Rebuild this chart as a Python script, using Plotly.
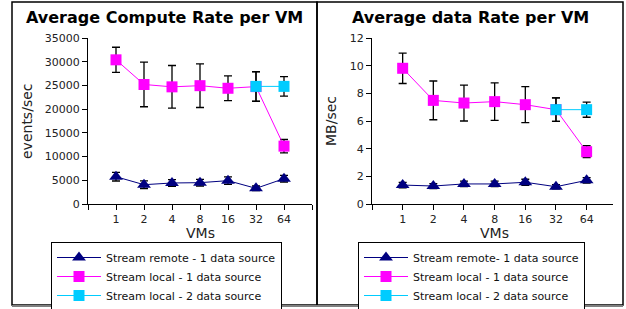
import plotly.graph_objects as go

W, H = 626, 309

vm_labels = ["1", "2", "4", "8", "16", "32", "64"]

# Compute rate (events/sec)
compute_remote = [5750, 4070, 4430, 4500, 4920, 3300, 5340]
compute_remote_err = [900, 800, 700, 700, 800, 500, 700]
compute_local1 = [30400, 25200, 24700, 24950, 24400, 24750, 12200]
compute_local1_err = [2650, 4700, 4500, 4600, 2600, 3100, 1400]
compute_local2_vms = ["32", "64"]
compute_local2 = [24800, 24800]
compute_local2_err = [3100, 2050]

# Data rate (MB/sec)
data_remote = [1.37, 1.30, 1.45, 1.45, 1.57, 1.25, 1.71]
data_remote_err = [0.2, 0.18, 0.2, 0.2, 0.22, 0.15, 0.2]
data_local1 = [9.81, 7.49, 7.30, 7.40, 7.18, 6.82, 3.78]
data_local1_err = [1.1, 1.4, 1.3, 1.35, 1.3, 0.85, 0.43]
data_local2_vms = ["32", "64"]
data_local2 = [6.82, 6.82]
data_local2_err = [0.85, 0.55]

names_left = ["Stream remote - 1 data source", "Stream local - 1 data source", "Stream local - 2 data source"]
names_right = ["Stream remote- 1 data source", "Stream local - 1 data source", "Stream local - 2 data source"]

NAVY = "#000080"
MAGENTA = "#FF00FF"
CYAN = "#00CCFF"
FONT = "DejaVu Sans"


def px(x):
    return x / W


def py(y):
    return 1 - y / H


def pos(labels):
    return [vm_labels.index(l) + 1 for l in labels]


fig = go.Figure()


def add_series(xa, ya, leg, names, remote, remote_err, l1, l1_err, l2x, l2, l2_err):
    eb = dict(type="data", visible=True, color="black", thickness=1.3, width=4)
    fig.add_trace(go.Scatter(
        x=pos(vm_labels), y=remote, name=names[0], mode="lines+markers",
        line=dict(color=NAVY, width=1),
        marker=dict(symbol="triangle-up", size=12, color=NAVY),
        error_y=dict(array=remote_err, **eb),
        xaxis=xa, yaxis=ya, legend=leg))
    fig.add_trace(go.Scatter(
        x=pos(vm_labels), y=l1, name=names[1], mode="lines+markers",
        line=dict(color=MAGENTA, width=1),
        marker=dict(symbol="square", size=11, color=MAGENTA),
        error_y=dict(array=l1_err, **eb),
        xaxis=xa, yaxis=ya, legend=leg))
    fig.add_trace(go.Scatter(
        x=pos(l2x), y=l2, name=names[2], mode="lines+markers",
        line=dict(color=CYAN, width=1),
        marker=dict(symbol="square", size=11, color=CYAN),
        error_y=dict(array=l2_err, **eb),
        xaxis=xa, yaxis=ya, legend=leg))


add_series("x", "y", "legend", names_left, compute_remote, compute_remote_err,
           compute_local1, compute_local1_err, compute_local2_vms, compute_local2, compute_local2_err)
add_series("x2", "y2", "legend2", names_right, data_remote, data_remote_err,
           data_local1, data_local1_err, data_local2_vms, data_local2, data_local2_err)

tickvals = list(range(0, len(vm_labels) + 2))
ticktext = [""] + vm_labels + [""]

xcommon = dict(tickmode="array", tickvals=tickvals, ticktext=ticktext,
               showline=True, linecolor="black", linewidth=1, ticks="outside",
               ticklen=5, tickcolor="black", showgrid=False, zeroline=False,
               tickfont=dict(size=11, color="#222", family=FONT))
ycommon = dict(showline=True, linecolor="black", linewidth=1, ticks="outside",
               ticklen=5, tickcolor="black", showgrid=False, zeroline=False,
               tickformat="d",
               tickfont=dict(size=11, color="#222", family=FONT))

legcommon = dict(xanchor="left", yanchor="top",
                 bgcolor="white", bordercolor="black", borderwidth=1,
                 font=dict(size=11, family=FONT, color="#111"), tracegroupgap=0,
                 itemwidth=44)

fig.update_layout(
    width=W, height=H, margin=dict(l=0, r=0, t=0, b=0, autoexpand=False),
    paper_bgcolor="white", plot_bgcolor="white",
    font=dict(family=FONT, size=11, color="#222"),
    xaxis=dict(domain=[px(88), px(312)], range=[0, 8], anchor="y", **xcommon),
    yaxis=dict(domain=[py(204), py(38)], range=[0, 35000], dtick=5000, anchor="x", **ycommon),
    xaxis2=dict(domain=[px(372), px(613)], range=[0, 7.86], anchor="y2", **xcommon),
    yaxis2=dict(domain=[py(204), py(38)], range=[0, 12], dtick=2, anchor="x2", **ycommon),
    legend=dict(x=px(51), y=py(242), **legcommon),
    legend2=dict(x=px(358), y=py(242), **legcommon),
    showlegend=True,
)

annots = [
    dict(text="<b>Average Compute Rate per VM</b>", x=px(164), y=py(17), font=dict(size=16, color="black")),
    dict(text="<b>Average data Rate per VM</b>", x=px(470), y=py(17), font=dict(size=16, color="black")),
    dict(text="events/sec", x=px(27), y=py(121), textangle=-90, font=dict(size=14, color="#222")),
    dict(text="MB/sec", x=px(331), y=py(121), textangle=-90, font=dict(size=14, color="#222")),
    dict(text="VMs", x=px(200), y=py(233), font=dict(size=14, color="#222")),
    dict(text="VMs", x=px(494), y=py(233), font=dict(size=14, color="#222")),
]
for a in annots:
    a.update(xref="paper", yref="paper", showarrow=False, xanchor="center", yanchor="middle")
    a["font"]["family"] = FONT
fig.update_layout(annotations=annots)

shapes = [
    dict(type="rect", x0=px(12), x1=px(317), y0=py(305), y1=py(2), line=dict(color="black", width=1.5)),
    dict(type="rect", x0=px(317), x1=px(623), y0=py(305), y1=py(2), line=dict(color="black", width=1.5)),
    dict(type="line", x0=px(12), x1=px(623), y0=py(306), y1=py(306), line=dict(color="#808080", width=2)),
]
for s in shapes:
    s.update(xref="paper", yref="paper", layer="below")
fig.update_layout(shapes=shapes)

fig.write_html("out.html", config={"displayModeBar": False},
               post_script="document.body.style.margin='0';document.body.style.overflow='hidden';")
